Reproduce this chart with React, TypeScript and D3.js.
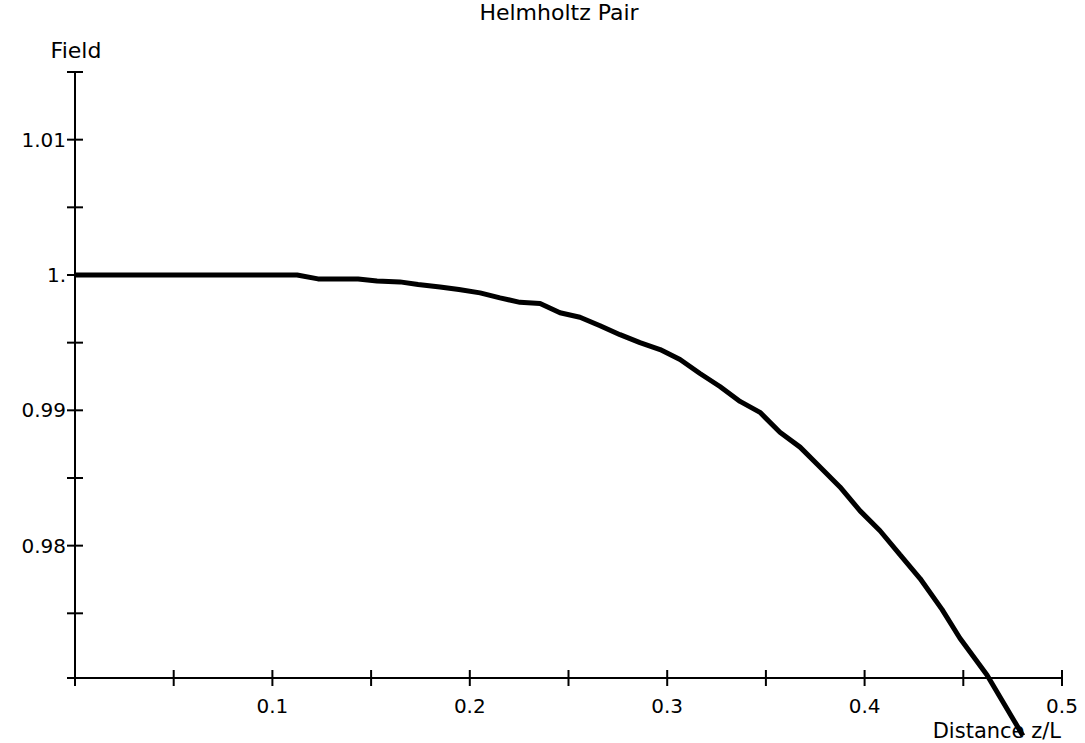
import { useEffect, useRef } from "react";
import * as d3 from "d3";

// curve vertices (z/L, field)
const distance = [
  0, 0.1125, 0.1231, 0.1434, 0.153, 0.1646, 0.1738, 0.1849, 0.1945, 0.2052,
  0.2153, 0.2254, 0.2356, 0.2457, 0.2558, 0.266, 0.2761, 0.2862, 0.2964, 0.3065,
  0.3166, 0.3267, 0.3369, 0.347, 0.3571, 0.3673, 0.3774, 0.3875, 0.3977, 0.4078,
  0.4179, 0.4281, 0.4392, 0.4483, 0.462, 0.4802,
];
const field = [
  1.0, 1.0, 0.99971, 0.99971, 0.99956, 0.99949, 0.9993, 0.99912, 0.99893, 0.99868,
  0.99831, 0.99798, 0.9979, 0.99721, 0.99688, 0.99625, 0.99559, 0.995, 0.99449, 0.99375,
  0.99272, 0.99176, 0.99066, 0.98985, 0.98838, 0.98728, 0.98581, 0.98434, 0.98257, 0.9811,
  0.97934, 0.97757, 0.97529, 0.97316, 0.97044, 0.96596,
];

const xMajor = [0.1, 0.2, 0.3, 0.4, 0.5];
const xMinor = [0, 0.05, 0.15, 0.25, 0.35, 0.45];
const yMajor = [0.98, 0.99, 1.0, 1.01];
const yLabels = ["0.98", "0.99", "1.", "1.01"];
const yMinor = [0.975, 0.985, 0.995, 1.005, 1.015];

const width = 1085;
const height = 743;
const font = "'DejaVu Sans', Verdana, sans-serif";

export default function App() {
  const ref = useRef<SVGSVGElement>(null);

  useEffect(() => {
    const svg = d3.select(ref.current);
    svg.selectAll("*").remove();

    const x = d3.scaleLinear().domain([0, 0.5]).range([75, 1062]);
    const y = d3.scaleLinear().domain([0.97022, 1.015]).range([678, 72]);

    const axisY = y.range()[0];
    const axisX = x(0);

    // axes lines
    svg.append("line")
      .attr("x1", 67).attr("x2", x(0.5))
      .attr("y1", axisY).attr("y2", axisY)
      .attr("stroke", "#000").attr("stroke-width", 2);
    svg.append("line")
      .attr("x1", axisX).attr("x2", axisX)
      .attr("y1", y(1.015)).attr("y2", axisY + 5)
      .attr("stroke", "#000").attr("stroke-width", 2);

    // x ticks
    svg.append("g")
      .selectAll("line")
      .data([...xMinor, ...xMajor])
      .join("line")
        .attr("x1", d => x(d)).attr("x2", d => x(d))
        .attr("y1", axisY - 8).attr("y2", axisY + 8)
        .attr("stroke", "#000").attr("stroke-width", 2);

    // y ticks
    svg.append("g")
      .selectAll("line")
      .data([...yMinor, ...yMajor])
      .join("line")
        .attr("x1", axisX - 8).attr("x2", axisX + 8)
        .attr("y1", d => y(d)).attr("y2", d => y(d))
        .attr("stroke", "#000").attr("stroke-width", 2);

    const text = svg.append("g")
      .attr("font-family", font)
      .attr("font-size", 20)
      .attr("fill", "#000");

    text.selectAll(".xl")
      .data(xMajor)
      .join("text")
        .attr("class", "xl")
        .attr("x", d => x(d))
        .attr("y", 713)
        .attr("text-anchor", "middle")
        .text(d => String(d));

    text.selectAll(".yl")
      .data(yMajor)
      .join("text")
        .attr("class", "yl")
        .attr("x", 66)
        .attr("y", d => y(d) + 7)
        .attr("text-anchor", "end")
        .text((d, i) => yLabels[i]);

    text.append("text")
      .attr("x", 559).attr("y", 20)
      .attr("font-size", 22)
      .attr("text-anchor", "middle")
      .text("Helmholtz Pair");
    text.append("text")
      .attr("x", axisX + 1).attr("y", 58)
      .attr("font-size", 22)
      .attr("text-anchor", "middle")
      .text("Field");
    text.append("text")
      .attr("x", 1061).attr("y", 738)
      .attr("font-size", 21)
      .attr("text-anchor", "end")
      .text("Distance z/L");

    // the curve
    const pts: [number, number][] = distance.map((d, i) => [d, field[i]]);
    const line = d3.line<[number, number]>()
      .x(d => x(d[0]))
      .y(d => y(d[1]));
    svg.append("path")
      .datum(pts)
      .attr("d", line)
      .attr("fill", "none")
      .attr("stroke", "#000")
      .attr("stroke-width", 5)
      .attr("stroke-linejoin", "bevel");
  }, []);

  return (
    <svg
      ref={ref}
      width={width}
      height={height}
      style={{ position: "absolute", left: 0, top: 0, background: "#fff" }}
    />
  );
}
